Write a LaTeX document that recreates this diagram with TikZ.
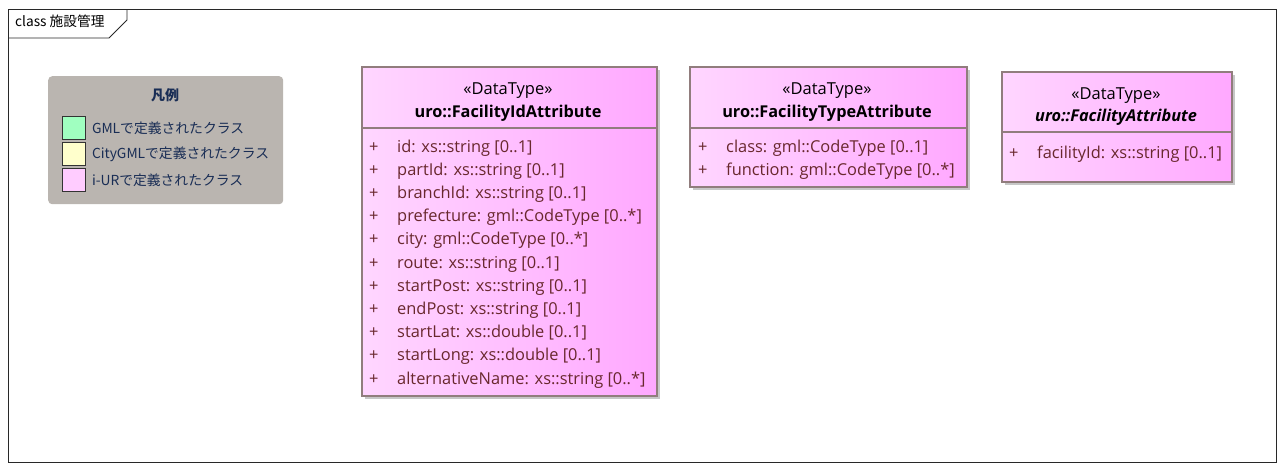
\documentclass[tikz,border=0pt]{standalone}
\usepackage{fontspec}
\setmainfont{Open Sans}
\newfontfamily\jpfont{Noto Sans CJK JP}
\usetikzlibrary{positioning, shadows}
\definecolor{framec}{RGB}{40,40,40}
\definecolor{boxline}{RGB}{145,125,125}
\definecolor{pinkL}{RGB}{255,214,255}
\definecolor{pinkR}{RGB}{255,168,255}
\definecolor{legendbg}{RGB}{186,181,176}
\definecolor{legendtxt}{RGB}{25,45,85}
\definecolor{attrtxt}{RGB}{105,40,45}
\definecolor{gmlc}{RGB}{160,255,192}
\definecolor{citygmlc}{RGB}{255,255,204}
\definecolor{iurc}{RGB}{255,204,255}
\tikzset{
    x=1pt, y=-1pt, % one unit is one pixel of the screenshot, y going down
    classbox/.style={draw=boxline, line width=1.8pt, left color=pinkL, right color=pinkR,
        anchor=north west, inner sep=0pt,
        drop shadow={shadow xshift=3pt, shadow yshift=-3pt, fill=black!22, opacity=1}},
    divider/.style={draw=boxline, line width=1.8pt},
    stereo/.style={font=\fontsize{16.5}{18}\selectfont, anchor=base, inner sep=0pt},
    cname/.style={font=\fontsize{16.3}{18}\selectfont\bfseries, anchor=base, inner sep=0pt},
    attr/.style={font=\fontsize{16.4}{18}\selectfont, text=attrtxt, anchor=base west, inner sep=0pt},
    swatch/.style={draw=black!80, line width=0.8pt, minimum size=23pt, inner sep=0pt, anchor=north west},
    legtext/.style={font=\jpfont\fontsize{13.8}{15}\selectfont, text=legendtxt, anchor=west, inner sep=0pt},
}
\begin{document}
\begin{tikzpicture}
\useasboundingbox (0,0) rectangle (1284,469);
% diagram frame and its name tab
\draw[framec, line width=0.9pt] (8,9) rectangle (1276,462);
\draw[framec, line width=0.9pt] (8,38) -- (109,38) -- (127,20) -- (127,9);
\node[font=\jpfont\fontsize{13.7}{15}\selectfont, anchor=base west, inner sep=0pt] (title) at (15,26) {class 施設管理};

% legend
\node[fill=legendbg, rounded corners=4pt, minimum width=235pt, minimum height=128pt, anchor=north west, inner sep=0pt] (legend) at (48,76) {};
\node[font=\jpfont\bfseries\fontsize{14}{15}\selectfont, text=legendtxt, inner sep=0pt] (legtitle) at (165,95) {凡例};
\node[swatch, fill=gmlc] (sw1) at (62,116) {};
\node[swatch, fill=citygmlc] (sw2) at (62,142) {};
\node[swatch, fill=iurc] (sw3) at (62,168) {};
\node[legtext, right=6pt of sw1] (lt1) {GMLで定義されたクラス};
\node[legtext, right=6pt of sw2] (lt2) {CityGMLで定義されたクラス};
\node[legtext, right=6pt of sw3] (lt3) {i-URで定義されたクラス};

% uro::FacilityIdAttribute
\node[classbox, minimum width=295pt, minimum height=329pt] (fid) at (361,66) {};
\draw[divider] (361,128) -- (656,128);
\node[stereo] (fidst) at (508,94) {«DataType»};
\node[cname] (fidnm) at (508,117) {uro::FacilityIdAttribute};
\foreach \a [count=\i from 0] in {id: xs::string [0..1], partId: xs::string [0..1],
    branchId: xs::string [0..1], prefecture: gml::CodeType [0..*],
    city: gml::CodeType [0..*], route: xs::string [0..1], startPost: xs::string [0..1],
    endPost: xs::string [0..1], startLat: xs::double [0..1],
    startLong: xs::double [0..1], alternativeName: xs::string [0..*]}{
  \node[attr] (fidp\i) at (369,152+23.2*\i) {+};
  \node[attr] (fida\i) at (397,152+23.2*\i) {\a};
}

% uro::FacilityTypeAttribute
\node[classbox, minimum width=277pt, minimum height=120pt] (ftype) at (689,66) {};
\draw[divider] (689,128) -- (966,128);
\node[stereo] (ftypest) at (827,94) {«DataType»};
\node[cname] (ftypenm) at (827,117) {uro::FacilityTypeAttribute};
\foreach \a [count=\i from 0] in {class: gml::CodeType [0..1], function: gml::CodeType [0..*]}{
  \node[attr] (ftypep\i) at (698,152+23.2*\i) {+};
  \node[attr] (ftypea\i) at (726,152+23.2*\i) {\a};
}

% uro::FacilityAttribute
\node[classbox, minimum width=230pt, minimum height=110pt] (fattr) at (1001,71) {};
\draw[divider] (1001,132) -- (1231,132);
\node[stereo] (fattrst) at (1116,99) {«DataType»};
\node[cname, font=\fontsize{16.3}{18}\selectfont\bfseries\itshape] (fattrnm) at (1116,121) {uro::FacilityAttribute};
\node[attr] (fattrp0) at (1009,158) {+};
\node[attr] (fattra0) at (1037,158) {facilityId: xs::string [0..1]};
\end{tikzpicture}
\end{document}
